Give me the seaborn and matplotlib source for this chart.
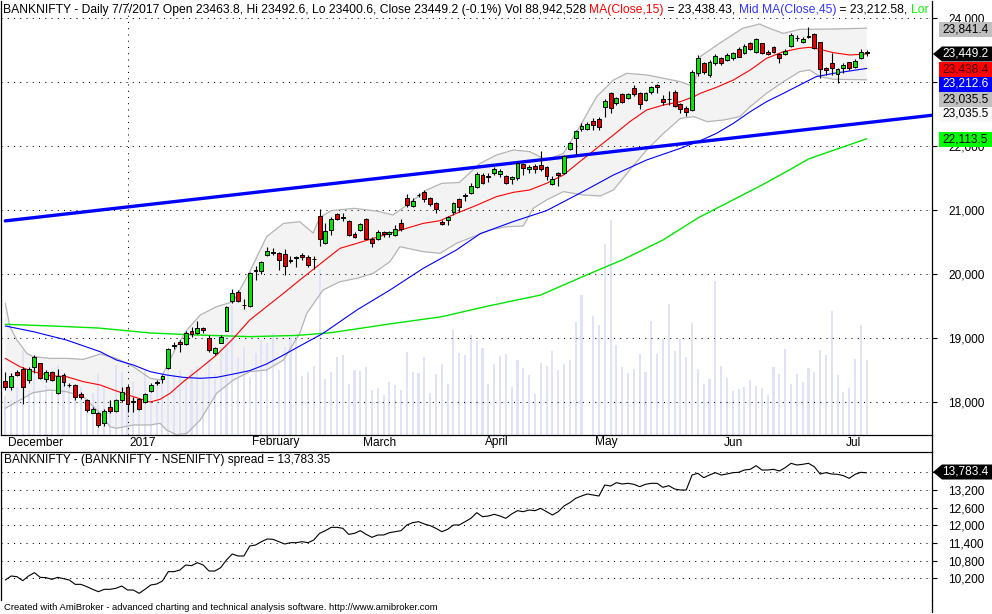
import numpy as np
import seaborn as sns
import matplotlib.pyplot as plt
from matplotlib.patches import Polygon
from matplotlib.lines import Line2D
import matplotlib.transforms as mtrans

# ---------------- data ----------------
opens = [18330, 18240, 18463, 18510, 18344, 18552, 18604, 18354, 18474, 18135,
         18417, 18270, 18260, 18125, 18026, 17833, 17823, 17677, 17927, 17854,
         18026, 18240, 17995, 18041, 17995, 18167, 18313, 18354, 18526, 18870,
         18943, 18901, 19115, 19073, 19156, 18995, 18760, 18927, 19115, 19578,
         19713, 19510, 19500, 20050, 20052, 20297, 20349, 20328, 20307, 20200,
         20250, 20292, 20271, 20230, 20907, 20479, 20688, 20933, 20880, 20834,
         20625, 20688, 20865, 20547, 20542, 20662, 20620, 20610, 20802, 21183,
         21068, 21230, 21287, 21183, 21104, 20808, 20844, 20974, 21167, 21220,
         21271, 21354, 21547, 21515, 21584, 21558, 21532, 21479, 21495, 21714,
         21636, 21688, 21698, 21667, 21406, 21573, 21573, 21948, 22131, 22261,
         22271, 22396, 22422, 22604, 22823, 22667, 22808, 22755, 22901, 22823,
         22719, 22839, 22953, 22735, 22730, 22849, 22657, 22599, 22563, 23140,
         23292, 23109, 23302, 23370, 23344, 23370, 23510, 23458, 23604, 23474,
         23604, 23464, 23542, 23432, 23437, 23562, 23680, 23620, 23705, 23750,
         23620, 23214, 23302, 23120, 23214, 23307, 23229, 23380, 23463.8]
highs = [18470, 18448, 18500, 18552, 18552, 18735, 18615, 18500, 18490, 18510,
         18448, 18302, 18281, 18161, 18041, 17916, 17849, 17885, 18031, 18041,
         18240, 18266, 18083, 18057, 18135, 18302, 18344, 18422, 18839, 18943,
         18969, 19109, 19177, 19266, 19177, 19047, 18865, 19047, 19500, 19771,
         19750, 19604, 20036, 20125, 20208, 20427, 20401, 20349, 20385, 20281,
         20286, 20323, 20297, 20281, 21011, 20802, 20886, 20948, 20948, 20844,
         20662, 20802, 20880, 20573, 20688, 20677, 20677, 20766, 20854, 21250,
         21183, 21271, 21313, 21198, 21130, 20844, 20907, 21130, 21183, 21260,
         21417, 21590, 21573, 21573, 21667, 21646, 21547, 21537, 21756, 21740,
         21698, 21714, 21927, 21688, 21532, 21599, 21860, 22068, 22250, 22354,
         22380, 22433, 22448, 22729, 22839, 22761, 22823, 22823, 22953, 22839,
         22849, 22938, 22969, 22797, 22865, 22875, 22677, 22625, 23188, 23420,
         23318, 23344, 23437, 23396, 23448, 23474, 23542, 23589, 23620, 23682,
         23614, 23500, 23562, 23448, 23510, 23771, 23734, 23708, 23865, 23760,
         23630, 23229, 23458, 23214, 23302, 23318, 23354, 23516, 23492.6]
lows = [18190, 18187, 18400, 17970, 18302, 18448, 18354, 18318, 18333, 18130,
        18250, 18240, 18031, 18047, 17849, 17823, 17614, 17625, 17823, 17844,
        18005, 17849, 17839, 17875, 17985, 18156, 18270, 18292, 18510, 18828,
        18786, 18891, 19021, 19062, 19073, 18786, 18734, 18917, 19110, 19542,
        19568, 19448, 19490, 19906, 19999, 20281, 20292, 20062, 19984, 20167,
        20115, 20219, 20104, 20073, 20438, 20469, 20610, 20844, 20834, 20594,
        20558, 20677, 20542, 20427, 20532, 20584, 20584, 20594, 20677, 21052,
        21052, 21198, 21130, 21063, 20959, 20761, 20766, 20922, 20974, 21146,
        21250, 21340, 21406, 21443, 21547, 21511, 21401, 21401, 21469, 21547,
        21573, 21573, 21610, 21469, 21391, 21375, 21563, 21938, 21860, 22240,
        22250, 22250, 22250, 22459, 22511, 22641, 22667, 22729, 22781, 22573,
        22703, 22813, 22823, 22641, 22641, 22615, 22511, 22469, 22552, 23100,
        23125, 23083, 23266, 23266, 23333, 23344, 23385, 23437, 23500, 23458,
        23437, 23422, 23458, 23302, 23422, 23542, 23646, 23604, 23682, 23510,
        23057, 23109, 23109, 22990, 23135, 23188, 23214, 23354, 23400.6]
closes = [18240, 18406, 18417, 18229, 18510, 18703, 18380, 18463, 18344, 18406,
          18313, 18260, 18073, 18083, 17875, 17885, 17640, 17864, 17860, 18031,
          18161, 17970, 18021, 17885, 18125, 18260, 18290, 18401, 18823, 18885,
          18906, 19083, 19057, 19151, 19120, 18813, 18839, 19021, 19479, 19698,
          19578, 19520, 20021, 20062, 20182, 20354, 20323, 20219, 20130, 20215,
          20262, 20261, 20141, 20240, 20542, 20672, 20854, 20860, 20890, 20610,
          20584, 20781, 20552, 20479, 20651, 20620, 20662, 20703, 20703, 21078,
          21146, 21240, 21167, 21094, 21011, 20781, 20886, 21104, 21042, 21230,
          21375, 21560, 21427, 21525, 21641, 21610, 21417, 21511, 21729, 21651,
          21672, 21646, 21646, 21537, 21479, 21542, 21839, 22042, 22235, 22313,
          22344, 22328, 22302, 22703, 22589, 22745, 22683, 22808, 22808, 22651,
          22823, 22917, 22917, 22683, 22740, 22630, 22573, 22526, 23162, 23375,
          23151, 23318, 23406, 23292, 23422, 23448, 23396, 23562, 23516, 23667,
          23448, 23437, 23474, 23370, 23490, 23734, 23690, 23672, 23712, 23526,
          23198, 23188, 23214, 23203, 23266, 23214, 23333, 23472, 23449.2]
# volume in millions
volume_m = [46, 42, 57, 101, 54, 79, 54, 60, 54, 83, 73, 60, 48, 57, 42, 50, 73, 60, 42, 83,
            75, 57, 63, 42, 77, 57, 65, 65, 85, 73, 77, 65, 77, 81, 65, 89, 73, 105, 117, 153,
            93, 105, 69, 97, 113, 109, 121, 77, 105,
            117, 117, 70, 75, 82, 198, 67, 75, 93, 95, 61, 77, 76, 81, 54, 56, 48, 63, 60, 54,
            99, 75, 74, 93, 50, 73, 85, 61, 125, 98, 95, 119, 112, 104, 61, 85, 94, 96, 57, 89,
            80, 71, 49, 86, 82, 100, 77, 85, 89, 134,
            167, 0, 142, 131, 227, 256, 107, 81, 74, 79, 96, 75, 136, 96, 114, 156, 100, 114, 93, 133,
            79, 61, 67, 183, 82, 68, 52, 55, 57, 65, 58, 56, 48, 81, 73, 102, 61, 73, 63, 80,
            75, 101, 95, 148, 71, 51, 56, 90, 131, 88.94]
spread = [10144, 10279, 10257, 10121, 10279, 10393, 10234, 10223, 10166, 10234,
          10189, 10144, 9996, 9996, 9917, 9827, 9747, 9827, 9827, 9861,
          9940, 9804, 9804, 9691, 9827, 9974, 10008, 10110, 10427, 10427,
          10483, 10653, 10630, 10732, 10653, 10449, 10449, 10562, 10823, 11027,
          10959, 10959, 11298, 11332, 11445, 11536, 11525, 11445, 11366, 11411,
          11411, 11445, 11411, 11502, 11728, 11819, 11932, 11932, 11898, 11694,
          11728, 11819, 11694, 11593, 11672, 11672, 11751, 11785, 11819, 12011,
          12091, 12125, 12045, 11989, 11898, 11785, 11864, 12011, 12011, 12125,
          12238, 12430, 12294, 12317, 12374,
          12317, 12238, 12385, 12498, 12464, 12521, 12498, 12577, 12464, 12351,
          12464, 12657, 12770, 12917, 12996, 13064, 13030, 12996, 13370, 13336,
          13449, 13404, 13427, 13393, 13313, 13393, 13427, 13427, 13291, 13347,
          13234, 13200, 13200, 13709, 13766, 13619, 13709, 13789, 13709, 13743,
          13789, 13800, 13879, 13902, 14026, 13879, 13879, 13902, 13845, 13958,
          14106, 14049, 14072, 14106, 13992, 13743, 13789, 13743, 13732, 13687,
          13596, 13732, 13800, 13783.35]

# indicator lines (bar index, value)
ma15_x = [0, 2.5, 4.8, 7.7, 10.5, 13.4, 16.3, 19.1, 22, 24.9, 26.6, 28.3, 30.6, 33.5, 36.3, 39.2,
          42, 44.9, 47.8, 50.6, 54.6, 57.5, 60.4, 63.2, 66.1, 68.9, 71.8, 74.7, 77.5, 80.4, 84.4,
          87.3, 90.1, 93, 95.9, 98.7, 101.6, 104.5, 107.3, 110.2, 113.1, 116, 118.3, 119.4, 122.2,
          125.1, 128, 130.8, 133.7, 136.5, 138.2, 140, 142.3, 145.1, 148]
ma15_y = [18682, 18552, 18474, 18411, 18396, 18318, 18266, 18172, 18083, 18000, 18042, 18135,
          18318, 18526, 18734, 18995, 19281, 19490, 19698, 19906, 20193, 20401, 20479, 20557,
          20635, 20713, 20791, 20833, 20948, 21052, 21209, 21276, 21313, 21417, 21547, 21755,
          21964, 22172, 22380, 22563, 22641, 22693, 22771, 22823, 22917, 23031, 23188, 23370,
          23474, 23526, 23542, 23510, 23458, 23422, 23438]
ma45_x = [0, 4.8, 10.5, 16.3, 19.1, 22, 24.9, 27.7, 30.6, 33.5, 36.3, 39.2, 42, 44.9, 47.8, 50.6,
          54.6, 60.4, 66.1, 71.8, 77.5, 81.6, 87.3, 93, 98.7, 104.5, 110.2, 116, 119.4, 122.2,
          125.1, 128, 130.8, 133.7, 136.5, 139.3, 142.3, 145.1, 148]
ma45_y = [19188, 19099, 18969, 18786, 18656, 18578, 18474, 18422, 18385, 18370, 18385, 18437,
          18490, 18594, 18734, 18875, 19073, 19437, 19750, 20088, 20375, 20630, 20820, 20990,
          21261, 21547, 21782, 21964, 22083, 22198, 22354, 22536, 22693, 22823, 22953, 23083,
          23135, 23172, 23212]
upper_x = [0, 0.8, 2, 3.7, 4.8, 7.7, 10.5, 13.4, 16.3, 19.1, 22, 24.9, 26.6, 27.7, 29.4, 31.2,
           33.5, 36.3, 39.2, 42, 44.9, 47.8, 50.6, 52.9, 54, 56, 60, 64, 66.6, 69, 72.4, 75, 78,
           81.6, 84.4, 87.3, 90.1, 93, 95.9, 98.7, 101.6, 104.5, 106.8, 110.2, 113.1, 116, 118.3,
           119.4, 122.7, 126.7, 129.6, 131.3, 133.7, 136.5, 142.3, 148]
upper_y = [19541, 19177, 18969, 18760, 18708, 18682, 18682, 18666, 18750, 18682, 18552, 18370,
           18344, 18552, 18864, 19125, 19359, 19490, 19568, 20036, 20583, 20791, 20817, 20640,
           20880, 20990, 21026, 20980, 20922, 21078, 21313, 21417, 21430, 21729, 21860, 21938,
           21912, 21782, 21886, 22302, 22771, 23031, 23136, 23110, 23058, 23005, 22927, 23396,
           23604, 23839, 23906, 23839, 23760, 23823, 23828, 23841]
lower_x = [0, 2, 4.8, 7.7, 10.5, 13.4, 16.3, 18, 19.1, 22, 24.9, 26.6, 27.7, 29.4, 31.2, 33.5,
           36.3, 39.2, 42, 44.9, 47.8, 50.6, 51.8, 54.6, 57.5, 60.4, 63.2, 66.1, 67.8, 71.8, 74.7,
           77.5, 80.4, 83.3, 86.1, 89, 90.7, 93, 95.9, 99.3, 102.2, 104.5, 107.3, 110.2, 113.1,
           116, 118.3, 120.6, 123.5, 126.2, 128, 130.8, 133.7, 136.5, 138.2, 140, 142.3, 148]
lower_y = [17901, 18005, 18146, 18187, 18161, 18083, 17823, 17615, 17589, 17641, 17641, 17667,
           17563, 17490, 17510, 17719, 18135, 18344, 18474, 18500, 18656, 19073, 19385, 19750,
           19880, 19932, 20010, 20193, 20427, 20349, 20323, 20479, 20583, 20687, 20739, 20750,
           21026, 21157, 21287, 21235, 21219, 21313, 21625, 21938, 22198, 22432, 22459, 22380,
           22407, 22459, 22615, 22823, 23005, 23162, 23188, 23083, 23042, 23035]
green_x = [0, 8, 16, 25, 33, 42, 50, 56, 66, 75, 83, 92, 100, 106, 113, 119, 125, 130, 135, 138, 148]
green_y = [19214, 19188, 19156, 19078, 19047, 19021, 19040, 19083, 19219, 19333, 19500, 19672,
           19990, 20219, 20531, 20875, 21156, 21390, 21640, 21797, 22113]
trend_x = [0, 159.2]
trend_y = [20830, 22480]

month_idx = [0, 21, 42, 61, 82, 101, 123, 144]
month_names = ["December", "2017", "February", "March", "April", "May", "Jun", "Jul"]
price_ticks = [18000, 19000, 20000, 21000, 22000, 23000, 24000]
price_labels = ["18,000", "19,000", "20,000", "21,000", "22,000", "", "24,000"]
spread_ticks = [10200, 10800, 11400, 12000, 12600, 13200, 13800]
spread_labels = ["10,200", "10,800", "11,400", "12,000", "12,600", "13,200", ""]

# ---------------- figure ----------------
sns.set_style("white")
plt.rcParams['font.family'] = ['Liberation Sans', 'DejaVu Sans']

W, H = 992, 614
FS = 8.6
fig = plt.figure(figsize=(W / 100, H / 100), dpi=100)


def fx(px):
    return px / W


def fy(py):
    return 1 - py / H


ax = fig.add_axes([fx(1), fy(435), (932 - 1) / W, (435 - 1) / H])
ax2 = fig.add_axes([fx(1), fy(600), (932 - 1) / W, (600 - 452) / H])
XL = ((1 - 5.3) / 5.82, (932 - 5.3) / 5.82)
for a in (ax, ax2):
    a.set_xlim(*XL)
    a.set_facecolor('white')
ax.set_ylim(24000 - (435 - 18) * 15.625, 24000 + 17 * 15.625)
ax2.set_ylim(13200 - (600 - 490) * 33.96, 13200 + (490 - 452) * 33.96)

dots = (0, (1, 5))
for t in price_ticks:
    ax.axhline(t, color='black', lw=0.75, ls=dots, zorder=2)
for t in spread_ticks:
    ax2.axhline(t, color='black', lw=0.75, ls=dots, zorder=2)
ax.axvline(21, color='black', lw=0.75, ls=dots, zorder=2)

o, h, l, c = (np.array(v, dtype=float) for v in (opens, highs, lows, closes))
idx = np.arange(len(c))

# bollinger band area
band_px = np.r_[upper_x, lower_x[::-1]]
band_py = np.r_[upper_y, lower_y[::-1]]
ax.fill(band_px, band_py, color='#f3f3f3', lw=0, zorder=1)

# volume in background
VOL_TOP = 434 * 1.19
ax.bar(idx, np.array(volume_m) / VOL_TOP, width=0.36, bottom=0, color='#e0e2f8',
       transform=ax.get_xaxis_transform(), zorder=1.5, lw=0)

sns.lineplot(x=upper_x, y=upper_y, ax=ax, color='#b4b4b4', lw=0.9, zorder=3)
sns.lineplot(x=lower_x, y=lower_y, ax=ax, color='#b4b4b4', lw=0.9, zorder=3)
sns.lineplot(x=green_x, y=green_y, ax=ax, color='#00e600', lw=1.0, zorder=3)
sns.lineplot(x=ma45_x, y=ma45_y, ax=ax, color='#0000ff', lw=0.8, zorder=3)
sns.lineplot(x=ma15_x, y=ma15_y, ax=ax, color='#ff0000', lw=0.8, zorder=3)
sns.lineplot(x=trend_x, y=trend_y, ax=ax, color='#0000ff', lw=2.4, zorder=3)

# candles
up = c >= o
ax.vlines(idx, l, h, color='black', lw=0.8, zorder=4)
body_lo = np.minimum(o, c)
body_h = np.maximum(np.abs(c - o), 4)
ax.bar(idx[up], body_h[up], bottom=body_lo[up], width=0.66, color='#00e600',
       edgecolor='black', lw=0.7, zorder=5)
ax.bar(idx[~up], body_h[~up], bottom=body_lo[~up], width=0.66, color='#e60000',
       edgecolor='black', lw=0.7, zorder=5)

# spread pane
sns.lineplot(x=idx, y=spread, ax=ax2, color='black', lw=0.8, zorder=3)

# axes styling
for a in (ax, ax2):
    a.set_xlabel('')
    a.set_ylabel('')
    a.yaxis.tick_right()
    a.tick_params(axis='y', direction='out', length=3.6, width=0.8, pad=8,
                  labelsize=FS, colors='black')
    for s in a.spines.values():
        s.set_color('black')
        s.set_linewidth(0.9)
ax.spines['top'].set_visible(False)
ax2.spines['bottom'].set_visible(False)
ax.set_yticks(price_ticks, price_labels)
ax2.set_yticks(spread_ticks, spread_labels)
ax.set_xticks(month_idx)
ax.tick_params(axis='x', direction='out', length=3.6, width=0.8, labelbottom=False)
ax2.set_xticks([])
blend = mtrans.blended_transform_factory(ax.transData, ax.transAxes)
for m, name in zip(month_idx, month_names):
    ax.text(m + 0.4, -1.5 / 434, name, transform=blend, ha='left', va='top',
            fontsize=FS, color='black')

fig.add_artist(Line2D([fx(932), fx(932)], [fy(435), fy(452)], color='black', lw=0.9))
fig.add_artist(Line2D([fx(932), fx(932)], [fy(600), fy(612)], color='black', lw=0.9))

# title lines
renderer = fig.canvas.get_renderer()


def text_width(s, size):
    t1 = fig.text(0, 0, '|' + s + '|', fontsize=size)
    t2 = fig.text(0, 0, '||', fontsize=size)
    w = t1.get_window_extent(renderer).width - t2.get_window_extent(renderer).width
    t1.remove()
    t2.remove()
    return w


def colored_text(x_px, y_px, pieces, size):
    x = x_px
    for s, col in pieces:
        fig.text(fx(x), fy(y_px), s, color=col, fontsize=size, ha='left', va='center')
        x += text_width(s, size)


TFS = 8.74
colored_text(3, 10, [
    ("BANKNIFTY - Daily 7/7/2017 Open 23463.8, Hi 23492.6, Lo 23400.6, Close 23449.2 (-0.1%) "
     "Vol 88,942,528 ", 'black'),
    ("MA(Close,15)", '#ff0000'),
    (" = 23,438.43, ", 'black'),
    ("Mid MA(Close,45)", '#3333ff'),
    (" = 23,212.58, ", 'black'),
    ("Lor", '#00ff00'),
], TFS)
fig.text(fx(4), fy(460), "BANKNIFTY - (BANKNIFTY - NSENIFTY) spread = 13,783.35",
         fontsize=FS, ha='left', va='center', color='black')
fig.text(fx(4), fy(607), "Created with AmiBroker - advanced charting and technical analysis "
         "software. http://www.amibroker.com", fontsize=6.8, ha='left', va='center', color='black')


# value boxes on the right axis
def value_box(yc, text, bg, fg, arrow=False):
    x0, x1, hh = 939, W, 7.5
    pts = [(x0, yc - hh), (x1, yc - hh), (x1, yc + hh), (x0, yc + hh)]
    if arrow:
        pts = [(933, yc), (x0 + 3, yc - hh), (x1, yc - hh), (x1, yc + hh), (x0 + 3, yc + hh)]
    fig.add_artist(Polygon([(fx(px), fy(py)) for px, py in pts], closed=True,
                           transform=fig.transFigure, facecolor=bg, edgecolor='none', zorder=5))
    fig.text(fx(942), fy(yc), text, color=fg, fontsize=FS, ha='left', va='center', zorder=6)


value_box(29, "23,841.4", '#c0c0c0', 'black')
value_box(54, "23,449.2", 'black', 'white', arrow=True)
value_box(69, "23,438.4", '#ff0000', '#400000')
value_box(84, "23,212.6", '#0000ff', 'white')
value_box(99, "23,035.5", '#c0c0c0', 'black')
value_box(114, "23,035.5", '#f8f8f8', 'black')
value_box(139, "22,113.5", '#00ff00', 'black')
value_box(472, "13,783.4", 'black', 'white', arrow=True)

fig.savefig('out.png', dpi=100)
